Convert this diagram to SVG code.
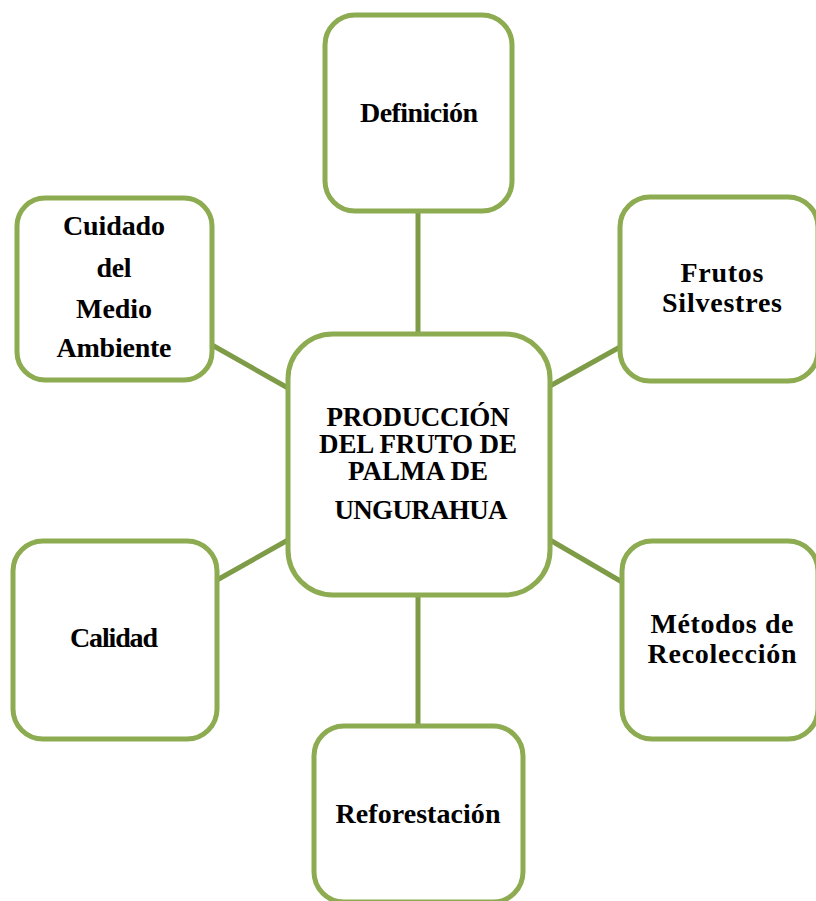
<svg xmlns="http://www.w3.org/2000/svg" width="816" height="901" viewBox="0 0 816 901">
<style>
.box{fill:#ffffff;stroke:#8DAB50;stroke-width:5}
.con{stroke:#7E9B47;stroke-width:5;fill:none}
.t{font-family:"Liberation Serif","Times New Roman",serif;font-weight:bold;font-size:28px;fill:#000;text-anchor:middle}
.c{font-size:27px}
</style>
<rect width="816" height="901" fill="#ffffff"/>
<g id="connectors">
<line class="con" x1="418" y1="211" x2="418" y2="334"/>
<line class="con" x1="212" y1="345" x2="288" y2="388"/>
<line class="con" x1="550" y1="386" x2="620" y2="347"/>
<line class="con" x1="550" y1="540" x2="622" y2="582"/>
<line class="con" x1="217" y1="580" x2="288" y2="540"/>
<line class="con" x1="418" y1="595" x2="418" y2="726"/>
</g>
<g id="n-definicion">
<rect class="box" x="325" y="15" width="187" height="196" rx="30"/>
<text class="t" x="419" y="122" textLength="118">Definición</text>
</g>
<g id="n-cuidado">
<rect class="box" x="17" y="198" width="195" height="182" rx="28"/>
<text class="t" x="114" y="235" textLength="102">Cuidado</text>
<text class="t" x="114" y="277" textLength="35">del</text>
<text class="t" x="114" y="318" textLength="76">Medio</text>
<text class="t" x="114" y="357" textLength="115">Ambiente</text>
</g>
<g id="n-frutos">
<rect class="box" x="620" y="197" width="198" height="184" rx="30"/>
<text class="t" x="722" y="282" textLength="83">Frutos</text>
<text class="t" x="722" y="312" textLength="120">Silvestres</text>
</g>
<g id="n-centro">
<rect class="box" x="288" y="334" width="262" height="261" rx="45"/>
<text class="t c" x="418" y="426" textLength="183">PRODUCCIÓN</text>
<text class="t c" x="418" y="453" textLength="198">DEL FRUTO DE</text>
<text class="t c" x="418" y="480" textLength="140">PALMA DE</text>
<text class="t c" x="421" y="519" textLength="173">UNGURAHUA</text>
</g>
<g id="n-calidad">
<rect class="box" x="13" y="541" width="204" height="198" rx="30"/>
<text class="t" x="114" y="647" textLength="88">Calidad</text>
</g>
<g id="n-metodos">
<rect class="box" x="622" y="541" width="196" height="198" rx="30"/>
<text class="t" x="722" y="633" textLength="143">Métodos de</text>
<text class="t" x="722" y="663" textLength="149">Recolección</text>
</g>
<g id="n-reforestacion">
<rect class="box" x="314" y="726" width="209" height="176" rx="30"/>
<text class="t" x="418" y="823" textLength="165">Reforestación</text>
</g>
</svg>
